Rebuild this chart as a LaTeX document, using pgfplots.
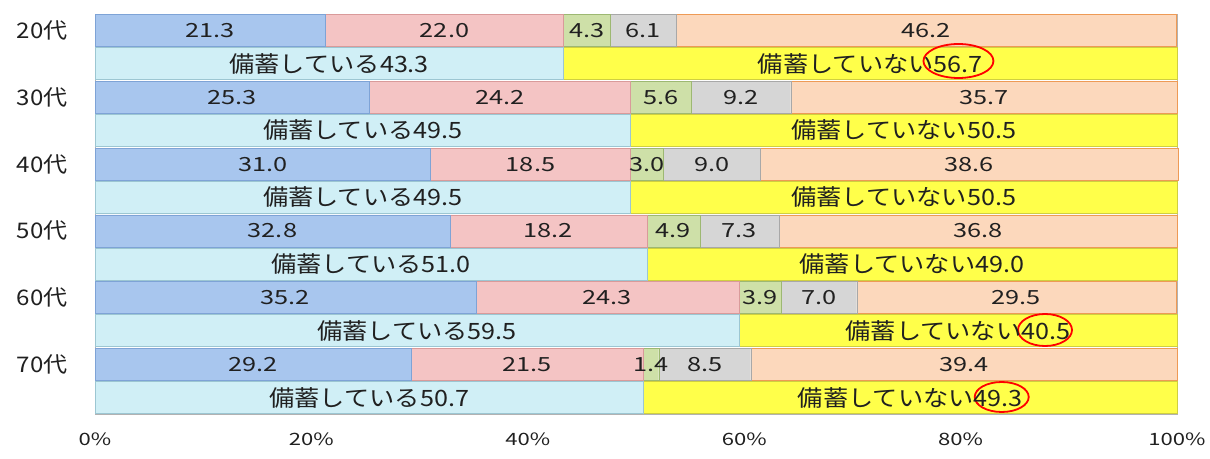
\documentclass[border=0pt]{standalone}
\usepackage{pgfplots}
\pgfplotsset{compat=1.18}
\usepackage{pgfplotstable}
\usepackage{fontspec}
\setmainfont{Noto Sans CJK JP}
\newfontfamily\numf[FakeStretch=1.3]{Noto Sans CJK JP}
\newfontfamily\jpf[FakeStretch=1.12]{Noto Sans CJK JP}

\definecolor{cBlue}{HTML}{A8C6EE}
\definecolor{cBlueD}{HTML}{7EA3D6}
\definecolor{cPink}{HTML}{F4C4C4}
\definecolor{cPinkD}{HTML}{D99A9A}
\definecolor{cGreen}{HTML}{CEE0A8}
\definecolor{cGreenD}{HTML}{9DB872}
\definecolor{cGray}{HTML}{D6D6D6}
\definecolor{cGrayD}{HTML}{A8A8A8}
\definecolor{cOrange}{HTML}{FCD8BC}
\definecolor{cOrangeD}{HTML}{EE9A55}
\definecolor{cCyan}{HTML}{D0EFF6}
\definecolor{cCyanD}{HTML}{9CC6D2}
\definecolor{cYellow}{HTML}{FFFF4A}
\definecolor{cYellowD}{HTML}{CFCF40}
\definecolor{txt}{HTML}{202020}

\pgfplotstableread{
y     a    b    c   d   e    f    g    la   lb   lc  ld  le   lf   lg
383.5 21.3 22.0 4.3 6.1 46.2 0    0    21.3 22.0 4.3 6.1 46.2 {}   {}
350.5 0    0    0   0   0    43.3 56.7 {}   {}   {}  {}  {}   備蓄している43.3 備蓄していない56.7
316.7 25.3 24.2 5.6 9.2 35.7 0    0    25.3 24.2 5.6 9.2 35.7 {}   {}
283.7 0    0    0   0   0    49.5 50.5 {}   {}   {}  {}  {}   備蓄している49.5 備蓄していない50.5
249.9 31.0 18.5 3.0 9.0 38.6 0    0    31.0 18.5 3.0 9.0 38.6 {}   {}
216.9 0    0    0   0   0    49.5 50.5 {}   {}   {}  {}  {}   備蓄している49.5 備蓄していない50.5
183.1 32.8 18.2 4.9 7.3 36.8 0    0    32.8 18.2 4.9 7.3 36.8 {}   {}
150.1 0    0    0   0   0    51.0 49.0 {}   {}   {}  {}  {}   備蓄している51.0 備蓄していない49.0
116.3 35.2 24.3 3.9 7.0 29.5 0    0    35.2 24.3 3.9 7.0 29.5 {}   {}
83.3  0    0    0   0   0    59.5 40.5 {}   {}   {}  {}  {}   備蓄している59.5 備蓄していない40.5
49.5  29.2 21.5 1.4 8.5 39.4 0    0    29.2 21.5 1.4 8.5 39.4 {}   {}
16.5  0    0    0   0   0    50.7 49.3 {}   {}   {}  {}  {}   備蓄している50.7 備蓄していない49.3
}\datatbl

\pgfplotsset{
  frame/.style={at={(95pt,44pt)}, anchor=south west,
    scale only axis, width=1082pt, height=400pt,
    xmin=0, xmax=100, ymin=0, ymax=400},
  lab/.style={only marks, mark=none, nodes near coords, point meta=explicit symbolic,
    every node near coord/.append style={anchor=center, text=txt, inner sep=0pt, #1}},
  seg/.style={fill=#1, draw=#1D},
}

\begin{document}
\begin{tikzpicture}
\path[use as bounding box] (0,0) rectangle (1210pt,458pt);
\begin{axis}[
  frame,
  xbar stacked, bar width=32pt,
  xtick={0,20,40,60,80,100},
  xticklabels={0\%,20\%,40\%,60\%,80\%,100\%},
  ytick={383.5,316.7,249.9,183.1,116.3,49.5},
  yticklabels={20代,30代,40代,50代,60代,70代},
  major tick length=0pt,
  axis line style={draw=gray!60},
  xticklabel style={font=\fontsize{17}{17}\numf, text=txt, yshift=-15pt},
  yticklabel style={font=\fontsize{21.5}{21.5}\jpf, text=txt, xshift=-24pt},
  clip=false,
]
\addplot[seg=cBlue] table[x=a, y=y] {\datatbl};
\addplot[seg=cPink] table[x=b, y=y] {\datatbl};
\addplot[seg=cGreen] table[x=c, y=y] {\datatbl};
\addplot[seg=cGray] table[x=d, y=y] {\datatbl};
\addplot[seg=cOrange] table[x=e, y=y] {\datatbl};
\addplot[seg=cCyan] table[x=f, y=y] {\datatbl};
\addplot[seg=cYellow] table[x=g, y=y] {\datatbl};
\end{axis}
\begin{axis}[frame, hide axis, clip=false]
\addplot[lab={font=\fontsize{19.5}{19.5}\numf}] table[x expr={\thisrow{a}/2}, y=y, meta=la] {\datatbl};
\addplot[lab={font=\fontsize{19.5}{19.5}\numf}] table[x expr={\thisrow{a}+\thisrow{b}/2}, y=y, meta=lb] {\datatbl};
\addplot[lab={font=\fontsize{19.5}{19.5}\numf}] table[x expr={\thisrow{a}+\thisrow{b}+\thisrow{c}/2}, y=y, meta=lc] {\datatbl};
\addplot[lab={font=\fontsize{19.5}{19.5}\numf}] table[x expr={\thisrow{a}+\thisrow{b}+\thisrow{c}+\thisrow{d}/2}, y=y, meta=ld] {\datatbl};
\addplot[lab={font=\fontsize{19.5}{19.5}\numf}] table[x expr={\thisrow{a}+\thisrow{b}+\thisrow{c}+\thisrow{d}+\thisrow{e}/2}, y=y, meta=le] {\datatbl};
\addplot[lab={font=\fontsize{22.5}{22.5}\jpf}] table[x expr={\thisrow{f}/2}, y=y, meta=lf] {\datatbl};
\addplot[lab={font=\fontsize{22.5}{22.5}\jpf}] table[x expr={\thisrow{f}+\thisrow{g}/2}, y=y, meta=lg] {\datatbl};
\draw[red, line width=1.8pt] (axis cs:79.8,353) ellipse[x radius=35pt, y radius=17pt];
\draw[red, line width=1.8pt] (axis cs:87.8,84) ellipse[x radius=27pt, y radius=16pt];
\draw[red, line width=1.8pt] (axis cs:83.8,17) ellipse[x radius=27pt, y radius=15pt];
\end{axis}
\end{tikzpicture}
\end{document}
